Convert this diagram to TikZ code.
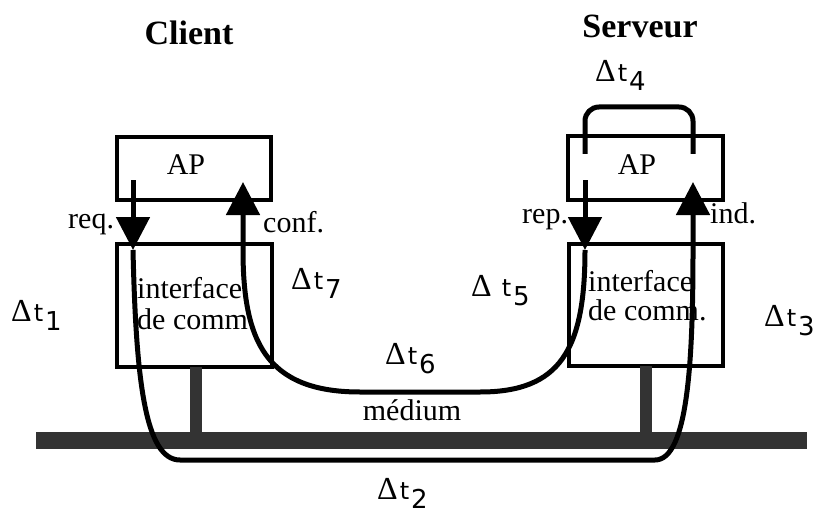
\documentclass[tikz,border=0pt]{standalone}
\usepackage{fontspec}
\setmainfont{Liberation Serif}
\newfontfamily\dfont{Liberation Serif}
\newfontfamily\tfont{DejaVu Sans}
\usetikzlibrary{arrows.meta}
\newcommand\dlab[2][2pt]{{\fontsize{32}{32}\dfont Δ}\kern#1{\fontsize{24}{24}\tfont t}\kern2pt\raisebox{-9pt}{\fontsize{26}{26}\tfont #2}}
\tikzset{
  box/.style={draw, line width=3.5pt, inner sep=0pt},
  txt/.style={font=\fontsize{30}{30}\selectfont, inner sep=0pt},
  title/.style={font=\fontsize{34}{34}\selectfont\bfseries, inner sep=0pt},
  dl/.style={inner sep=0pt, anchor=base west},
  conn/.style={line width=5pt},
  tip/.style={-{Triangle[width=33pt,length=33pt]}},
  medium/.style={fill=black!80},
}
\begin{document}
\begin{tikzpicture}[x=1pt,y=-1pt]
\useasboundingbox (0,0) rectangle (818,513);
% titles
\node[title, anchor=base] (client) at (189,45) {Client};
\node[title, anchor=base] (serveur) at (640,38) {Serveur};
% boxes
\node[box, minimum width=154pt, minimum height=63pt] (capbox) at (194,168.5) {};
\node[box, minimum width=155pt, minimum height=123pt] (cifbox) at (194.5,305.5) {};
\node[box, minimum width=155pt, minimum height=64pt] (sapbox) at (645.5,168) {};
\node[box, minimum width=154pt, minimum height=122pt] (sifbox) at (646,305) {};
% box texts
\node[txt, anchor=base] (capt) at (186,175) {AP};
\node[txt, anchor=base] (sapt) at (637,175) {AP};
\node[txt, anchor=base west] (cif1) at (137,298) {interface};
\node[txt, anchor=base west] (cif2) at (137,329) {de comm.};
\node[txt, anchor=base west] (sif1) at (588,291) {interface};
\node[txt, anchor=base west] (sif2) at (588,320) {de comm.};
% primitive labels
\node[txt, anchor=base west] (req) at (68,228) {req.};
\node[txt, anchor=base west] (conf) at (263,232) {conf.};
\node[txt, anchor=base west] (rep) at (522,223) {rep.};
\node[txt, anchor=base west] (ind) at (710,223) {ind.};
\node[txt, anchor=base] (med) at (412,420) {médium};
% medium bar and stems
\path[medium] (36,432) rectangle (807,449);
\path[medium] (190,367) rectangle (202,433);
\path[medium] (640,366) rectangle (652,433);
% delta labels
\node[dl] (d1) at (11,321) {\dlab{1}};
\node[dl] (d2) at (377,499) {\dlab{2}};
\node[dl] (d3) at (764,326) {\dlab{3}};
\node[dl] (d4) at (595,82) {\dlab{4}};
\node[dl] (d5) at (471,296) {\dlab[10pt]{5}};
\node[dl] (d6) at (385,364) {\dlab{6}};
\node[dl] (d7) at (291,289) {\dlab{7}};
% path coordinates
\coordinate (reqS) at (133,180);
\coordinate (reqT) at (133,250);
\coordinate (indT) at (693,182);
\coordinate (repS) at (585,180);
\coordinate (repT) at (585,250);
\coordinate (confT) at (243,182);
\coordinate (loopL) at (585,154);
\coordinate (loopR) at (693,154);
% request / indication (dt1, dt2, dt3)
\draw[conn, tip] (reqS) -- (reqT);
\draw[conn, tip] (reqT) .. controls (136,380) and (145,460) .. (180,460)
  -- (655,460) .. controls (688,460) and (693,360) .. (693,250) -- (indT);
% server processing (dt4)
\draw[conn, rounded corners=14pt] (loopL) -- (585,107) -- (693,107) -- (loopR);
% response / confirmation (dt5, dt6, dt7)
\draw[conn, tip] (repS) -- (repT);
\draw[conn, tip] (repT) .. controls (585,350) and (560,392) .. (480,392)
  -- (360,392) .. controls (265,392) and (243,340) .. (243,250) -- (confT);
\end{tikzpicture}
\end{document}
